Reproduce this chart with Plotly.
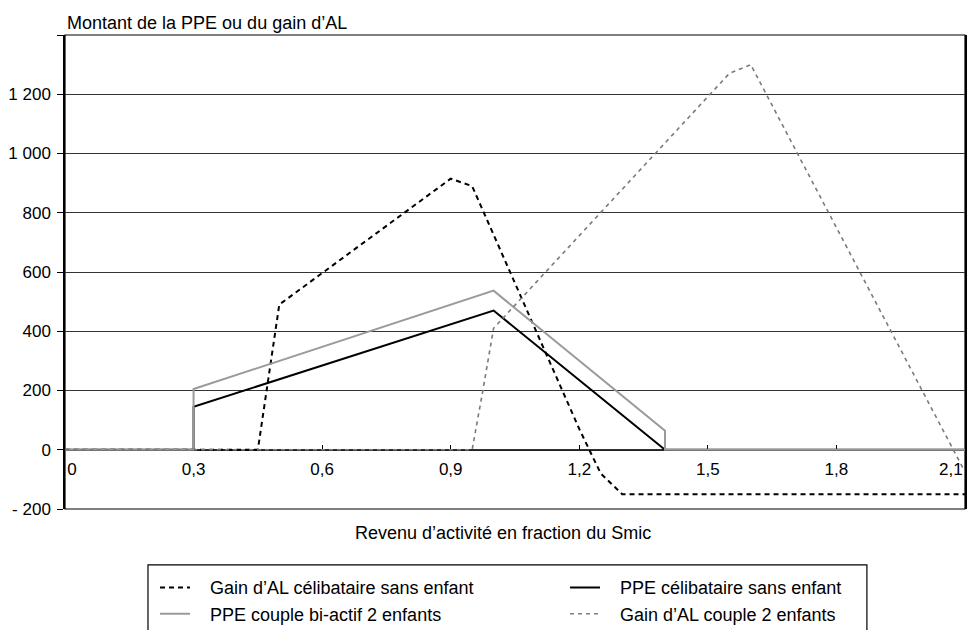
import plotly.graph_objects as go

# ---- data ----
x_al_celib = [0, 0.45, 0.5, 0.9, 0.95, 1.2, 1.25, 1.3, 2.1]
y_al_celib = [0, 0, 490, 915, 890, 70, -80, -150, -150]

x_ppe_celib = [0, 0.3, 0.3, 1.0, 1.4, 2.1]
y_ppe_celib = [0, 0, 145, 470, 0, 0]

x_ppe_couple = [0, 0.3, 0.3, 1.0, 1.4, 1.4, 2.1]
y_ppe_couple = [0, 0, 205, 537, 64, 0, 0]

x_al_couple = [0, 0.95, 0.975, 1.0, 1.55, 1.6, 2.1]
y_al_couple = [0, 0, 200, 410, 1270, 1300, -75]

series_names = [
    "Gain d\u2019AL célibataire sans enfant",
    "PPE célibataire sans enfant",
    "PPE couple bi-actif 2 enfants",
    "Gain d\u2019AL couple 2 enfants",
]

NB = "\u00a0"
x_tickvals = [0, 0.3, 0.6, 0.9, 1.2, 1.5, 1.8, 2.1]
x_ticktext = [NB * 3 + "0", "0,3", "0,6", "0,9", "1,2", "1,5", "1,8", "2,1" + NB * 6]
y_tickvals = [-200, 0, 200, 400, 600, 800, 1000, 1200, 1400]
y_ticktext = ["- 200", "0", "200", "400", "600", "800", "1 000", "1 200", ""]

FONT = "Liberation Sans, Arial, sans-serif"
PAD = NB * 3

fig = go.Figure()
fig.add_trace(go.Scatter(x=x_al_celib, y=y_al_celib, mode="lines", name=PAD + series_names[0],
                         legend="legend",
                         line=dict(color="black", width=2, dash="5px,4px")))
fig.add_trace(go.Scatter(x=x_ppe_celib, y=y_ppe_celib, mode="lines", name=PAD + series_names[1],
                         legend="legend2",
                         line=dict(color="black", width=2)))
fig.add_trace(go.Scatter(x=x_ppe_couple, y=y_ppe_couple, mode="lines", name=PAD + series_names[2],
                         legend="legend",
                         line=dict(color="#9a9a9a", width=2)))
fig.add_trace(go.Scatter(x=x_al_couple, y=y_al_couple, mode="lines", name=PAD + series_names[3],
                         legend="legend2",
                         line=dict(color="#7a7a7a", width=1.6, dash="4px,4px")))

leg_common = dict(orientation="v", yanchor="top", xanchor="left", y=-0.127,
                  borderwidth=0, bgcolor="rgba(0,0,0,0)",
                  font=dict(size=18, family=FONT), tracegroupgap=0)

fig.update_layout(
    width=967, height=622,
    margin=dict(l=57, r=10, t=27, b=121, autoexpand=False),
    plot_bgcolor="white", paper_bgcolor="white",
    font=dict(family=FONT, size=18, color="black"),
    showlegend=True,
    legend=dict(x=0.1, **leg_common),
    legend2=dict(x=0.5556, **leg_common),
    xaxis=dict(
        range=[0, 2.1], tickvals=x_tickvals, ticktext=x_ticktext,
        showgrid=False, zeroline=False, showline=True, linecolor="#222222", linewidth=1,
        ticks="inside", ticklen=5, tickcolor="black",
        anchor="free", position=0.125, layer="below traces",
        tickfont=dict(size=17, family=FONT, color="black"), ticklabelstandoff=4,
        ticklabeloverflow="allow",
    ),
    yaxis=dict(
        range=[-200, 1400], tickvals=y_tickvals, ticktext=y_ticktext,
        showgrid=True, gridcolor="#333333", gridwidth=1, zeroline=False,
        showline=True, mirror=True, linecolor="black", linewidth=1.5,
        ticks="outside", ticklen=6, tickcolor="black",
        tickfont=dict(size=17, family=FONT, color="black"), ticklabelstandoff=3,
    ),
    shapes=[
        dict(type="rect", xref="paper", yref="paper", x0=0, x1=1, y0=0, y1=1,
             line=dict(color="black", width=1.2), layer="below"),
        dict(type="rect", xref="paper", yref="paper", x0=0.0922, x1=0.891, y0=-0.3, y1=-0.118,
             line=dict(color="black", width=1.2), layer="below"),
    ],
    annotations=[
        dict(text="Montant de la PPE ou du gain d\u2019AL", xref="paper", yref="paper",
             x=0, y=1.025, xanchor="left", yanchor="middle", showarrow=False,
             font=dict(size=18, family=FONT)),
        dict(text="Revenu d\u2019activité en fraction du Smic", xref="paper", yref="paper",
             x=0.487, y=-0.0506, xanchor="center", yanchor="middle", showarrow=False,
             font=dict(size=18, family=FONT)),
    ],
)

fig.write_html("out.html")
